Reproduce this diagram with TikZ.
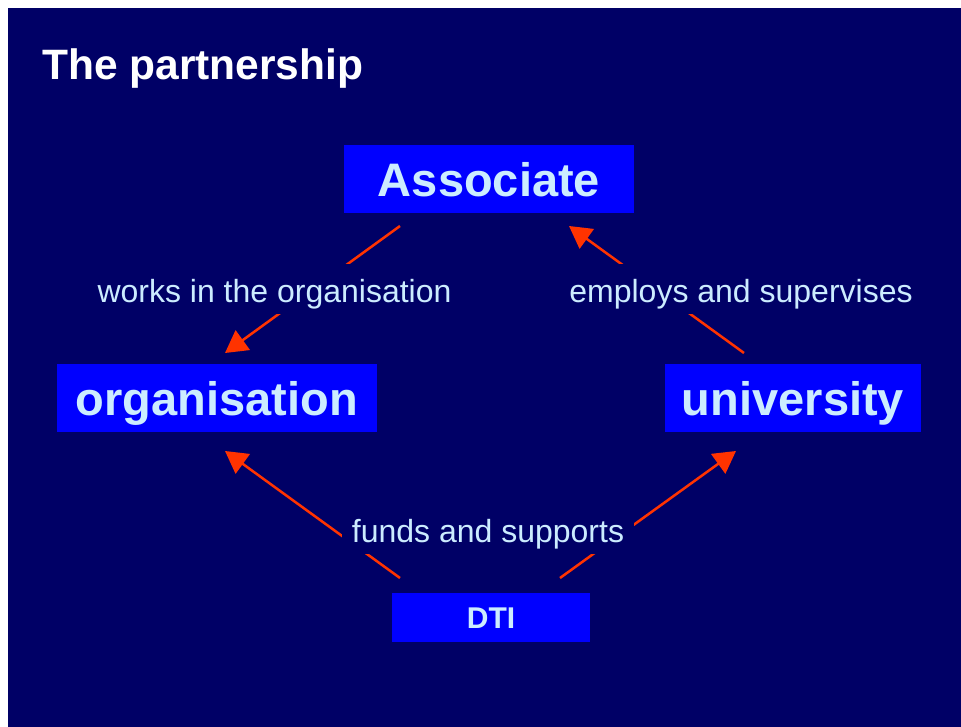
\documentclass[tikz,border=0pt]{standalone}
\usepackage{fontspec}
\setmainfont{Liberation Sans}
\usetikzlibrary{arrows.meta}
\definecolor{bgnavy}{HTML}{000066}
\definecolor{boxblue}{HTML}{0000FF}
\definecolor{txtblue}{HTML}{CCECFF}
\definecolor{arrred}{HTML}{FF3300}
\tikzset{
  bigbox/.style={fill=boxblue, text=txtblue, inner sep=0pt, minimum height=68pt,
    font=\fontsize{47}{50}\selectfont\bfseries, text height=34pt, text depth=0pt},
  smallbox/.style={fill=boxblue, text=txtblue, inner sep=0pt, minimum height=49pt,
    font=\fontsize{30}{34}\selectfont\bfseries, text height=21.5pt, text depth=0pt},
  lbl/.style={fill=bgnavy, text=txtblue, inner xsep=10pt, inner ysep=10pt,
    font=\fontsize{32}{36}\selectfont, text height=28pt, text depth=2pt, anchor=base},
  conn/.style={draw=arrred, line width=2.5pt, -{Triangle[length=22pt,width=24pt]}},
}
\begin{document}
\begin{tikzpicture}[x=1pt,y=-1pt]
\useasboundingbox (0,0) rectangle (961,727);
\fill[white] (0,0) rectangle (961,727);
\fill[bgnavy] (8,8) rectangle (961,727);
\node[anchor=base west, inner sep=0pt, text=white, font=\fontsize{42.5}{46}\selectfont\bfseries] (title) at (42,80) {The partnership};
\node[bigbox, minimum width=290pt] (assoc) at (489,179.5) {Associate};
\node[bigbox, minimum width=320pt] (org) at (217,398) {organisation};
\node[bigbox, minimum width=256pt] (uni) at (793,398) {university};
\node[smallbox, minimum width=198pt] (dti) at (491,617.5) {DTI};
\coordinate (w1) at (400,226); \coordinate (w2) at (225,353);
\coordinate (e1) at (744,353); \coordinate (e2) at (569,226);
\coordinate (d1) at (400,578); \coordinate (d2) at (225,451);
\coordinate (d3) at (560,578); \coordinate (d4) at (736,451);
\draw[conn] (w1) -- (w2);
\draw[conn] (e1) -- (e2);
\draw[conn] (d1) -- (d2);
\draw[conn] (d3) -- (d4);
\node[lbl] (lw) at (274.5,302) {works in the organisation};
\node[lbl] (le) at (741,302) {employs and supervises};
\node[lbl] (ld) at (488,542) {funds and supports};
\end{tikzpicture}
\end{document}
